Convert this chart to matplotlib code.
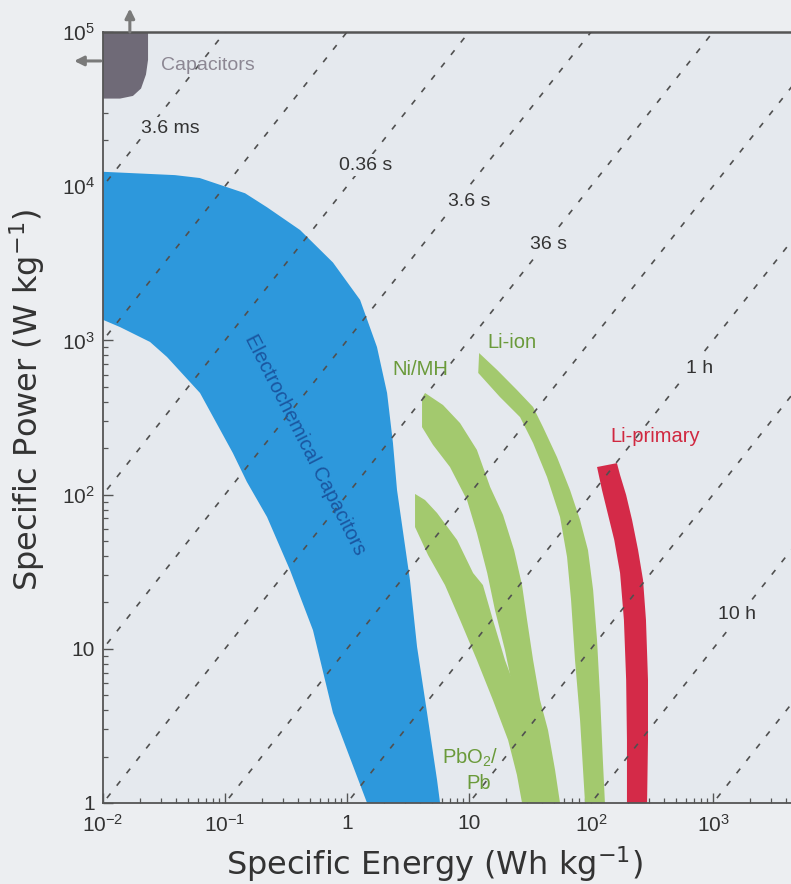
import numpy as np
import matplotlib.pyplot as plt
from matplotlib.ticker import LogLocator, FuncFormatter, NullFormatter

plt.rcParams['font.family'] = ['Liberation Sans', 'DejaVu Sans']

# constant discharge-time lines (hours)
t_hours = [1e-6, 1e-5, 1e-4, 1e-3, 1e-2, 1e-1, 1, 10, 100, 1000]
time_labels = ['3.6 ms', '0.36 s', '3.6 s', '36 s', '1 h', '10 h']
time_label_E = [0.0354, 1.41, 10.0, 44.5, 782, 1575]
time_label_P = [2.38e4, 1.37e4, 8.0e3, 4.16e3, 662, 16.6]

# regions (E in Wh/kg, P in W/kg)
cap_E = [0.01, 0.0234, 0.0234, 0.0225, 0.0205, 0.0176, 0.0138, 0.01]
cap_P = [1e5, 1e5, 6.6e4, 5.3e4, 4.3e4, 3.85e4, 3.7e4, 3.7e4]

ec_top_E = [0.01, 0.0389, 0.062, 0.146, 0.221, 0.412, 0.767, 1.28, 1.76, 2.13, 2.38, 2.57,
            3.28, 3.75, 4.53, 5.47, 5.79]
ec_top_P = [1.24e4, 1.18e4, 1.13e4, 9.0e3, 7.3e3, 5.2e3, 3.2e3, 1.83e3, 906, 456, 216, 107,
            27.9, 10.3, 3.84, 1.41, 1.0]
ec_bot_E = [1.46, 0.767, 0.526, 0.341, 0.221, 0.151, 0.116, 0.0624, 0.0335, 0.0243, 0.0138, 0.01]
ec_bot_P = [1.0, 3.84, 13.2, 32.4, 71.6, 121, 186, 456, 780, 977, 1.22e3, 1.36e3]

pb_E = [3.61, 3.61, 4.61, 6.35, 8.44, 11.6, 15.7, 20.9, 24.7, 27.2,
        38.2, 25.2, 19.7, 15.7, 13.0, 10.8, 7.98, 5.47, 4.36]
pb_P = [101, 61.6, 40.6, 25.9, 15.4, 8.46, 4.65, 2.56, 1.52, 1.0,
        1.0, 5.01, 8.46, 15.4, 25.9, 31.0, 50.8, 76.0, 92.2]

nimh_E = [4.36, 4.12, 4.12, 5.07, 6.98, 9.63, 11.6, 14.1, 16.3, 19.7, 23.0, 26.2, 28.8,
          55.7, 50.7, 44.4, 38.2, 33.5, 29.9, 27.2, 23.4, 19.0, 14.9, 11.6, 8.44, 6.12]
nimh_P = [456, 423, 274, 210, 151, 92.2, 56.4, 31.0, 17.9, 9.82, 5.41, 2.97, 1.0,
          1.0, 1.64, 2.97, 4.65, 8.46, 15.4, 25.9, 43.7, 73.8, 112, 195, 291, 381]

liion_E = [12.1, 11.9, 17.9, 26.2, 33.5, 43.6, 55.7, 63.6, 68.6, 73.9, 81.3, 86.0, 89.3,
           130, 125, 119, 112, 104, 94.4, 81.3, 67.3, 52.6, 40.4, 33.5, 24.7, 17.0]
liion_P = [828, 615, 430, 318, 216, 130, 71.6, 39.4, 20.7, 8.46, 3.45, 1.64, 1.0,
           1.0, 1.90, 4.65, 11.4, 24.1, 43.7, 68.4, 107, 175, 274, 370, 477, 643]

liprim_E = [112, 123, 138, 155, 173, 186, 194, 197, 197,
            288, 293, 293, 282, 267, 243, 217, 194, 173, 163]
liprim_P = [151, 107, 73.8, 50.8, 31.0, 15.4, 6.28, 2.56, 1.0,
            1.0, 2.56, 6.28, 15.4, 27.9, 43.7, 68.4, 99.4, 134, 160]

bg = '#e5e9ee'
fig = plt.figure(figsize=(7.91, 8.84), dpi=100, facecolor='#eceef1')
ax = fig.add_axes([103 / 791, 1 - 803 / 884, 688 / 791, 771 / 884])
ax.set_facecolor(bg)
ax.set_xscale('log')
ax.set_yscale('log')
ax.set_xlim(0.01, 10 ** 3.639)
ax.set_ylim(1, 1e5)

blue = '#2d98dc'
green = '#a3c96e'
red = '#d42a48'

ax.fill(cap_E, cap_P, color='#6f6a77', lw=0, zorder=2)
ax.fill(ec_top_E + ec_bot_E, ec_top_P + ec_bot_P, color=blue, lw=0, zorder=2)
ax.fill(pb_E, pb_P, color=green, lw=0, zorder=2)
ax.fill(nimh_E, nimh_P, color=green, lw=0, zorder=2)
ax.fill(liion_E, liion_P, color=green, lw=0, zorder=2)
ax.fill(liprim_E, liprim_P, color=red, lw=0, zorder=2)

# diagonal lines of constant time
E_line = np.array([1e-3, 1e5])
for t in t_hours:
    ax.plot(E_line, E_line / t, color='#505050', lw=1.2, dashes=(3.5, 6), zorder=3)

for lab, e, p in zip(time_labels, time_label_E, time_label_P):
    ax.text(e, p, lab, fontsize=14, color='#333333', ha='center', va='center', zorder=4,
            bbox=dict(facecolor=bg, edgecolor='none', pad=1.5))

# region labels
ax.text(0.0726, 6.1e4, 'Capacitors', fontsize=14, color='#8c8793', ha='center', va='center', zorder=4)
ax.text(0.453, 210, 'Electrochemical Capacitors', fontsize=14.5, color='#1a56a0', ha='center', va='center',
        rotation=-63, rotation_mode='anchor', zorder=4)
ax.text(3.96, 643, 'Ni/MH', fontsize=14.5, color='#6a9a3a', ha='center', va='center', zorder=4)
ax.text(22.5, 962, 'Li-ion', fontsize=14.5, color='#6a9a3a', ha='center', va='center', zorder=4)
ax.text(335, 237, 'Li-primary', fontsize=14.5, color='#d02840', ha='center', va='center', zorder=4)
ax.text(10.3, 1.95, r'PbO$\mathregular{_2}$/', fontsize=14.5, color='#6a9a3a', ha='center', va='center', zorder=4)
ax.text(12.1, 1.33, 'Pb', fontsize=14.5, color='#6a9a3a', ha='center', va='center', zorder=4)

# arrows at the capacitors corner
arrow = dict(arrowstyle='-|>', color='#7a7a7a', lw=2.2, mutation_scale=14, shrinkA=0, shrinkB=0)
ax.annotate('', xy=(0.0166, 1.42e5), xytext=(0.0166, 1e5), arrowprops=arrow, annotation_clip=False)
ax.annotate('', xy=(0.0058, 6.49e4), xytext=(0.0096, 6.49e4), arrowprops=arrow, annotation_clip=False)

# axes styling
for side in ['left', 'bottom', 'top']:
    ax.spines[side].set_color('#555555')
ax.spines['left'].set_linewidth(1.3)
ax.spines['bottom'].set_linewidth(1.3)
ax.spines['top'].set_linewidth(1.8)
ax.spines['right'].set_visible(False)


def fmt(v, pos):
    n = int(round(np.log10(v)))
    if n == 0:
        return '1'
    if n == 1:
        return '10'
    return r'$\mathregular{10^{%d}}$' % n


for axis in [ax.xaxis, ax.yaxis]:
    axis.set_major_locator(LogLocator(base=10, numticks=10))
    axis.set_minor_locator(LogLocator(base=10, subs=np.arange(2, 10), numticks=50))
    axis.set_major_formatter(FuncFormatter(fmt))
    axis.set_minor_formatter(NullFormatter())

ax.tick_params(which='both', direction='in', color='#555555', labelcolor='#333333', labelsize=15)
ax.tick_params(which='major', length=7, width=1)
ax.tick_params(which='minor', length=3.5, width=0.9)
ax.tick_params(axis='x', pad=8)
ax.tick_params(axis='y', pad=6)

ax.set_xlabel(r'Specific Energy (Wh kg$\mathregular{^{-1}}$)', fontsize=23, color='#333333',
              family='DejaVu Sans')
ax.set_ylabel(r'Specific Power (W kg$\mathregular{^{-1}}$)', fontsize=23, color='#333333',
              family='DejaVu Sans')
ax.xaxis.set_label_coords(0.481, -0.053)
ax.yaxis.set_label_coords(-0.081, 0.523)

plt.savefig('out.png', dpi=100, facecolor=fig.get_facecolor())
